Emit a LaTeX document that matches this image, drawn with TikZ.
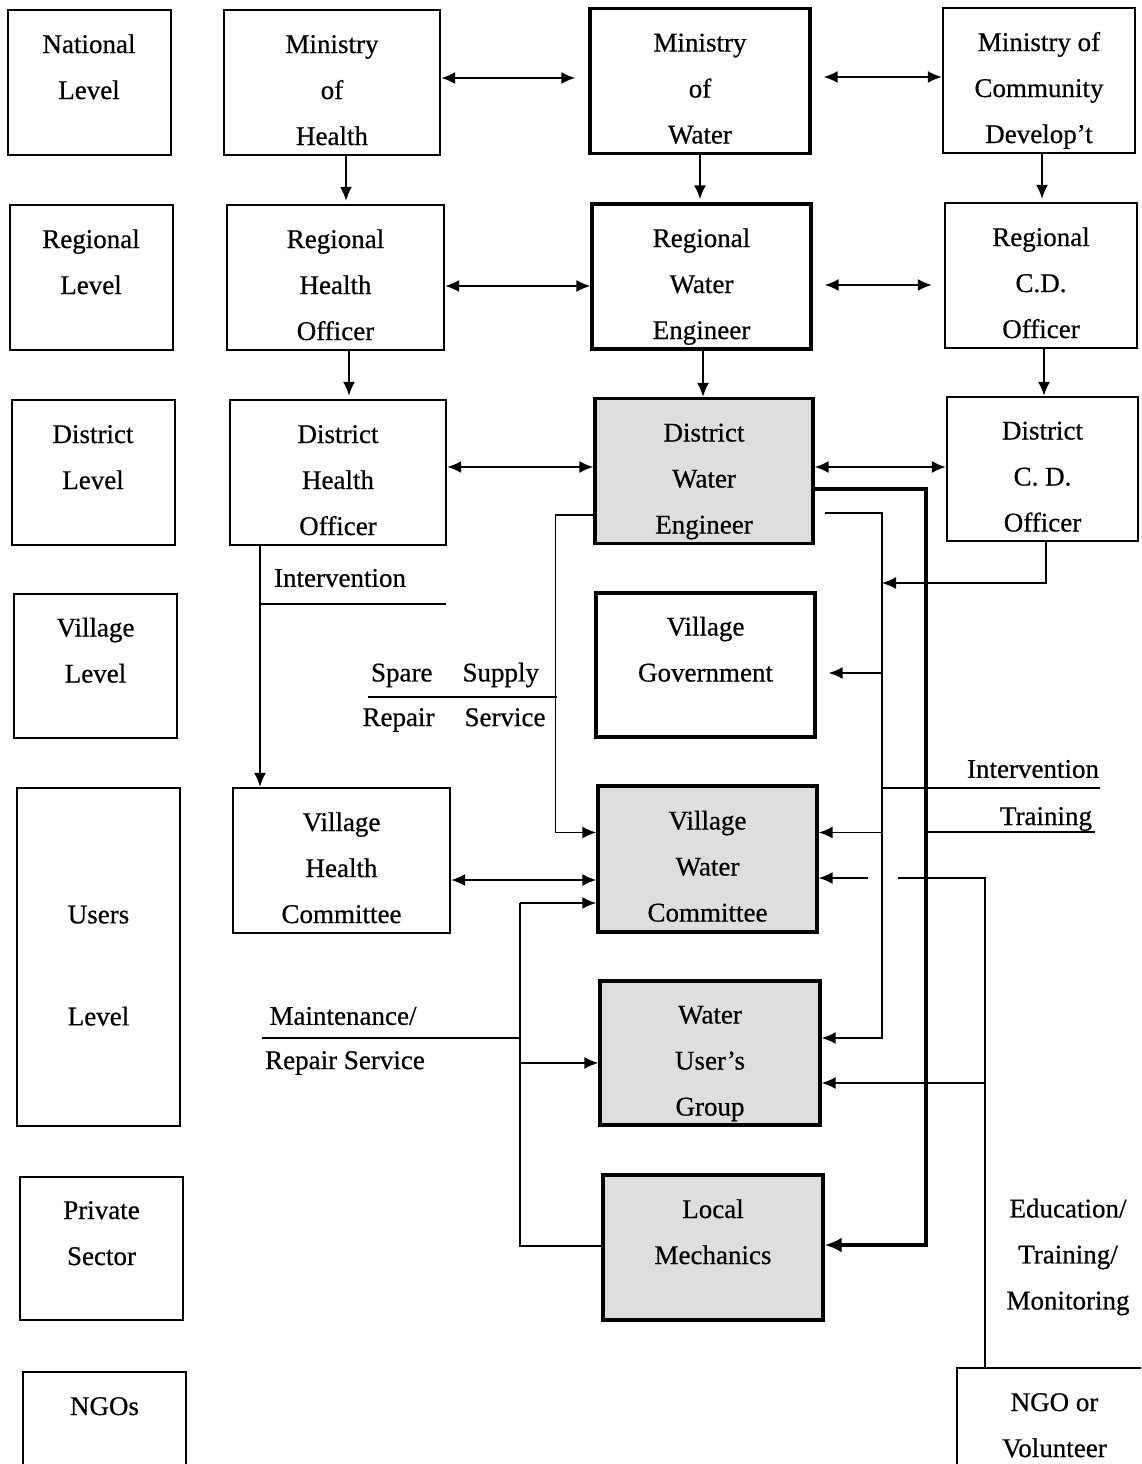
\documentclass[tikz,border=0pt]{standalone}
\usepackage{fontspec}
\setmainfont{Liberation Serif}[FakeBold=0.6]
\usetikzlibrary{arrows.meta}
\newcommand\tl[3]{\rule{0pt}{39pt}#1\\#2\\#3\rule[-6pt]{0pt}{6pt}}
\begin{document}
\begin{tikzpicture}[x=1pt,y=-1pt,
  bx/.style={draw, line width=2.4pt, inner sep=0pt, align=center,
     font=\fontsize{27}{46}\selectfont, minimum height=145pt},
  lv/.style={bx, line width=2pt, minimum width=163pt},
  wt/.style={bx, line width=3.4pt},
  sh/.style={fill=black!13},
  lbl/.style={inner sep=0pt, font=\fontsize{27}{46}\selectfont},
  conn/.style={line width=1.6pt},
  arr/.style={conn, -{Latex[length=14pt,width=12pt]}},
  dbl/.style={conn, {Latex[length=14pt,width=12pt]}-{Latex[length=14pt,width=12pt]}},
  thk/.style={line width=4pt, -{Latex[length=17pt,width=15pt]}}]
\useasboundingbox (0,0) rectangle (1141,1464);
\clip (0,0) rectangle (1141,1464);
\fill[white] (0,0) rectangle (1141,1464);

% level boxes
\node[lv] (nat) at (89,82.5) {\tl{National}{Level}{}};
\node[lv] (reg) at (91,277.5) {\tl{Regional}{Level}{}};
\node[lv] (dis) at (93,472.5) {\tl{District}{Level}{}};
\node[lv, minimum height=144pt] (vil) at (95.5,666) {\tl{Village}{Level}{}};
\node[lv, minimum height=338pt] (usr) at (98.5,957) {\rule{0pt}{35pt}Users\\[56pt]Level};
\node[lv, minimum height=143pt] (prv) at (101.5,1248.5) {\tl{Private}{Sector}{}};
\node[lv] (ngos) at (104.5,1444.5) {\tl{NGOs}{}{}};

% health column
\node[bx, minimum width=216pt] (moh) at (332,82.5) {\tl{Ministry}{of}{Health}};
\node[bx, minimum width=217pt] (rho) at (335.5,277.5) {\tl{Regional}{Health}{Officer}};
\node[bx, minimum width=216pt] (dho) at (338,472.5) {\tl{District}{Health}{Officer}};
\node[bx, minimum width=217pt] (vhc) at (341.5,860.5) {\tl{Village}{Health}{Committee}};

% water column
\node[wt, minimum width=220pt] (mow) at (700,81) {\tl{Ministry}{of}{Water}};
\node[wt, minimum width=219pt] (rwe) at (701.5,276.5) {\tl{Regional}{Water}{Engineer}};
\node[wt, sh, minimum width=218pt] (dwe) at (704,471) {\tl{District}{Water}{Engineer}};
\node[wt, minimum width=219pt, minimum height=144pt] (vg) at (705.5,665) {\tl{Village}{Government}{}};
\node[wt, sh, minimum width=219pt, minimum height=146pt] (vwc) at (707.5,859) {\tl{Village}{Water}{Committee}};
\node[wt, sh, minimum width=220pt, minimum height=144pt] (wug) at (710,1053) {\tl{Water}{User’s}{Group}};
\node[wt, sh, minimum width=220pt] (lm) at (713,1247.5) {\tl{Local}{Mechanics}{}};

% community development column
\node[bx, minimum width=192pt] (mocd) at (1039,80.5) {\tl{Ministry of}{Community}{Develop’t}};
\node[bx, minimum width=192pt] (rcd) at (1041,275.5) {\tl{Regional}{C.D.}{Officer}};
\node[bx, minimum width=191pt, minimum height=144pt] (dcd) at (1042.5,469) {\tl{District}{C. D.}{Officer}};
\node[bx, minimum width=195pt] (ngo) at (1054.5,1440.5) {\tl{NGO or}{Volunteer}{}};

% horizontal links between ministries / officers
\draw[dbl, shorten >=13pt] ([yshift=4.5pt]moh.east) -- ([yshift=4.5pt]moh.east -| mow.west);
\draw[dbl, shorten <=12pt] ([yshift=4pt]mow.east) -- ([yshift=4pt]mow.east -| mocd.west);
\draw[dbl] ([yshift=-8.5pt]rho.east) -- ([yshift=-8.5pt]rho.east -| rwe.west);
\draw[dbl, shorten <=12pt, shorten >=12pt] ([yshift=-8.5pt]rwe.east) -- ([yshift=-8.5pt]rwe.east -| rcd.west);
\draw[dbl] ([yshift=5.5pt]dho.east) -- ([yshift=5.5pt]dho.east -| dwe.west);
\draw[dbl] ([yshift=4pt]dwe.east) -- ([yshift=4pt]dwe.east -| dcd.west);

% vertical links
\draw[arr, shorten >=3pt] ([xshift=14pt]moh.south) -- ([xshift=14pt]moh.south |- rho.north);
\draw[arr, shorten >=3pt] (mow.south) -- (mow.south |- rwe.north);
\draw[arr, shorten >=3pt] ([xshift=3pt]mocd.south) -- ([xshift=3pt]mocd.south |- rcd.north);
\draw[arr, shorten >=3pt] ([xshift=13.5pt]rho.south) -- ([xshift=13.5pt]rho.south |- dho.north);
\draw[arr] ([xshift=1.5pt]rwe.south) -- ([xshift=1.5pt]rwe.south |- dwe.north);
\draw[arr] ([xshift=3pt]rcd.south) -- ([xshift=3pt]rcd.south |- dcd.north);

% health intervention
\draw[arr] ([xshift=-78pt]dho.south) -- ([xshift=-78pt]dho.south |- vhc.north);
\coordinate (intR) at (446,604);
\draw[conn] ([xshift=-78pt]dho.south |- intR) -- (intR);
\node[lbl] (intxt) at (340,578) {Intervention};

% spare supply / repair service
\draw[arr] ([yshift=-44pt]dwe.west) -- ++(-38,0) |- ([yshift=26.5pt]vwc.west);
\coordinate (spL) at (368,697);
\coordinate (spR) at (557,697);
\draw[conn] (spL) -- (spR);
\node[lbl] (sptxt) at (455,675) {Spare\hspace{30pt}Supply};
\node[lbl] (rptxt) at (454,720) {Repair\hspace{30pt}Service};

% village health committee <-> village water committee
\draw[dbl] ([yshift=-19.5pt]vhc.east) -- ([yshift=-19.5pt]vhc.east -| vwc.west);

% maintenance / repair service network
\coordinate (mt) at (520,903);
\coordinate (mb) at (520,1246);
\coordinate (mw) at (520,1063);
\coordinate (ml) at (262,1038);
\draw[conn] (mb -| lm.west) -- (mb) -- (mt);
\draw[arr] (mt) -- (mt -| vwc.west);
\draw[arr] (mw) -- (mw -| wug.west);
\draw[conn] (ml) -- (ml -| mt);
\node[lbl] (mtxt) at (343,1016) {Maintenance/};
\node[lbl] (rstxt) at (345,1063) {Repair Service};

% thick line district water engineer -> local mechanics
\coordinate (tk) at (926,1245);
\draw[thk] ([yshift=-18pt]dwe.east) -| (tk) -- (tk -| lm.east);
\coordinate (trR) at (1095,832);
\draw[conn] (trR -| tk) -- (trR);
\node[lbl] (trtxt) at (1046,819) {Training};

% thin line district water engineer -> village bodies
\coordinate (tv) at (882,1038);
\draw[arr, shorten <=10pt] ([yshift=-42pt]dwe.east) -| (tv) -- (tv -| wug.east);
\coordinate (vga) at ([yshift=-8pt]vg.east);
\draw[arr, shorten >=12pt] (tv |- vga) -- (vga);
\coordinate (vwr) at ([yshift=26.5pt]vwc.east);
\draw[arr] (tv |- vwr) -- (vwr);
\coordinate (inR) at (1100,788);
\draw[conn] (tv |- inR) -- (inR);
\node[lbl] (in2txt) at (1033,769) {Intervention};
\coordinate (cdy) at (0,583);
\draw[arr] ([xshift=3.5pt]dcd.south) |- (tv |- cdy);

% NGO line
\coordinate (ng) at (985,878);
\coordinate (ngg) at (868,878);
\coordinate (nw) at (985,1083);
\draw[conn] (ng |- ngo.north) -- (ng) -- ++(-87,0);
\draw[arr] (ngg) -- (ngg -| vwc.east);
\draw[arr] (nw) -- (nw -| wug.east);
\node[lbl, align=center] (edtxt) at (1068,1257) {Education/\\Training/\\Monitoring};
\end{tikzpicture}
\end{document}
